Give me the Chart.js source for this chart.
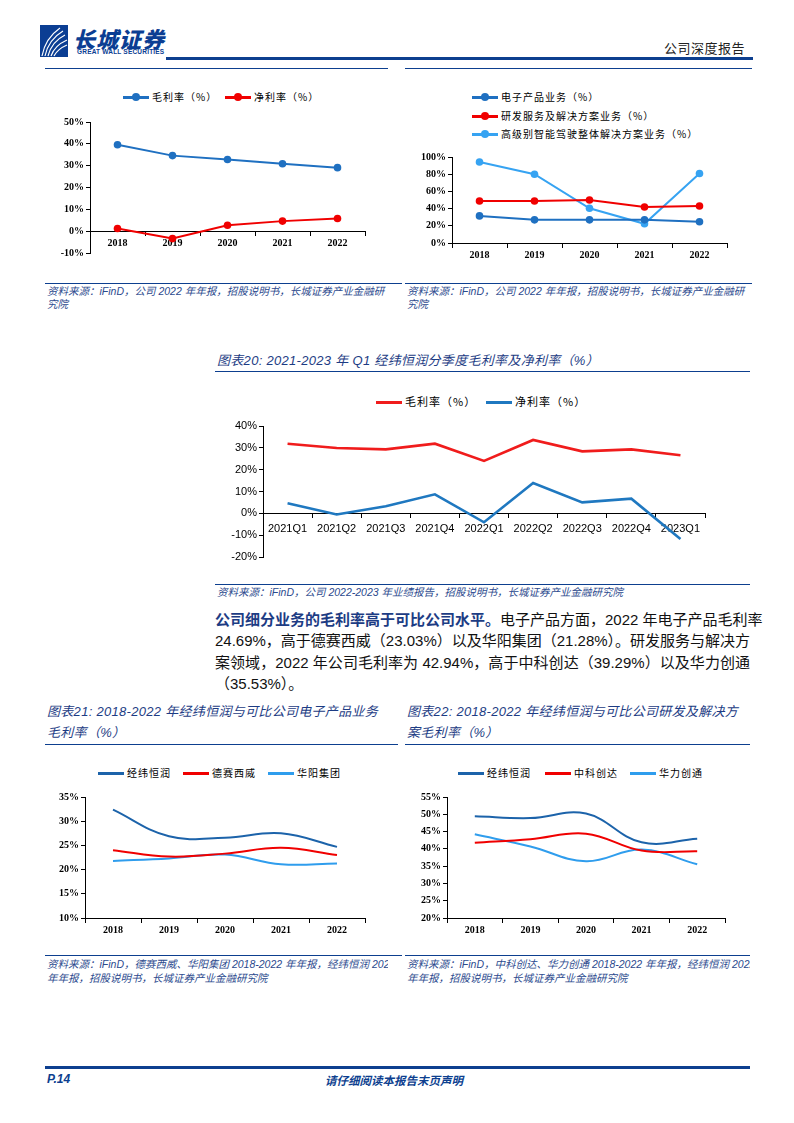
<!DOCTYPE html>
<html>
<head>
<meta charset="utf-8">
<script src="https://cdn.jsdelivr.net/npm/chart.js@4.4.0/dist/chart.umd.min.js"></script>
<style>
  body { margin: 0; background: #fff; }
  #page { position: relative; width: 794px; height: 1123px; overflow: hidden; font-family: "Liberation Sans", "Noto Sans CJK SC", sans-serif; }
  .abs { position: absolute; }
  .hr { position: absolute; background: #0d3f8f; }
  .title { position: absolute; font-size: 13px; font-style: italic; color: #1d3c84; line-height: 21px; white-space: nowrap; letter-spacing: 0.3px; }
  .src { position: absolute; font-size: 10.5px; font-style: italic; color: #2c4a8e; line-height: 13px; white-space: nowrap; }
  .lg { position: absolute; height: 14px; line-height: 14px; font-family: "Noto Sans CJK SC", sans-serif; font-size: 10px; letter-spacing: 1px; color: #000; white-space: nowrap; }
  .sw { position: relative; display: inline-block; width: 26px; height: 3px; margin-right: 3px; vertical-align: middle; top: -1px; }
  .sw.dot::after { content: ''; position: absolute; left: 9px; top: -2.5px; width: 8px; height: 8px; border-radius: 50%; background: inherit; }
  canvas { position: absolute; }
  #para { position: absolute; left: 215px; top: 609px; width: 535px; font-size: 15px; line-height: 21.3px; color: #111; font-family: "Liberation Sans", "Noto Sans CJK SC", sans-serif; }
  #para div { text-align: justify; text-align-last: justify; white-space: nowrap; }
  #para div.last { text-align-last: left; }
</style>
</head>
<body>
<div id="page">
  <!-- header -->
  <svg class="abs" style="left:40px;top:25px" width="28" height="32" viewBox="0 0 28 32">
    <rect width="28" height="32" fill="#0b3e93"/>
    <path d="M2 31 C4 20 10 10 20 3" stroke="#fff" stroke-width="1.2" fill="none"/>
    <path d="M5 31 C7 21 13 12 23 6" stroke="#fff" stroke-width="1.2" fill="none"/>
    <path d="M8 31 C10 23 15 15 25 10" stroke="#fff" stroke-width="1.2" fill="none"/>
    <path d="M11 31 C13 25 18 19 27 15" stroke="#fff" stroke-width="1.2" fill="none"/>
    <path d="M14 31 C16 27 20 23 27 20" stroke="#fff" stroke-width="1.2" fill="none"/>
  </svg>
  <div class="abs" style="left:73px;top:22px;font-family:'Noto Sans CJK SC';font-weight:900;font-size:22px;color:#0b3e93;letter-spacing:1px;font-style:italic">长城证券</div>
  <div class="abs" style="left:77px;top:48px;font-family:'Liberation Sans';font-weight:bold;font-size:6.5px;color:#0b3e93;letter-spacing:0.2px">GREAT WALL SECURITIES</div>
  <div class="abs" style="left:664px;top:38px;font-family:'Noto Sans CJK SC';font-size:13px;color:#222;letter-spacing:0.5px">公司深度报告</div>
  <div class="hr" style="left:166px;top:57px;width:587px;height:2.5px"></div>
  <div class="hr" style="left:45px;top:68px;width:343px;height:1.2px"></div>
  <div class="hr" style="left:405px;top:68px;width:347px;height:1.2px"></div>

  <!-- chart 1 legend -->
  <div class="lg" style="left:123px;top:90px"><span class="sw dot" style="background:#1f70c1"></span>毛利率（%）</div>
  <div class="lg" style="left:225px;top:90px"><span class="sw dot" style="background:#f00000"></span>净利率（%）</div>
  <canvas id="c1" width="335" height="160" style="left:40px;top:112px"></canvas>
  <div class="hr" style="left:45px;top:283px;width:357px;height:1.2px"></div>
  <div class="src" style="left:47px;top:285px">资料来源：iFinD，公司 2022 年年报，招股说明书，长城证券产业金融研<br>究院</div>

  <!-- chart 2 legend -->
  <div class="lg" style="left:472px;top:90px"><span class="sw dot" style="background:#1f70c1"></span>电子产品业务（%）</div>
  <div class="lg" style="left:472px;top:109px"><span class="sw dot" style="background:#f00000"></span>研发服务及解决方案业务（%）</div>
  <div class="lg" style="left:472px;top:127px"><span class="sw dot" style="background:#36a3f2"></span>高级别智能驾驶整体解决方案业务（%）</div>
  <canvas id="c2" width="335" height="120" style="left:402px;top:147px"></canvas>
  <div class="hr" style="left:405px;top:283px;width:347px;height:1.2px"></div>
  <div class="src" style="left:407px;top:285px">资料来源：iFinD，公司 2022 年年报，招股说明书，长城证券产业金融研<br>究院</div>

  <!-- chart 3 -->
  <div class="title" style="left:217px;top:350px">图表20: 2021-2023 年 Q1 经纬恒润分季度毛利率及净利率（%）</div>
  <div class="hr" style="left:215px;top:371px;width:535px;height:1.2px"></div>
  <div class="lg" style="left:376px;top:394px;font-size:11px"><span class="sw" style="background:#f01c1c"></span>毛利率（%）</div>
  <div class="lg" style="left:486px;top:394px;font-size:11px"><span class="sw" style="background:#1f78c0"></span>净利率（%）</div>
  <canvas id="c3" width="510" height="151" style="left:205px;top:416px"></canvas>
  <div class="hr" style="left:215px;top:584px;width:535px;height:1.2px"></div>
  <div class="src" style="left:217px;top:586px">资料来源：iFinD，公司 2022-2023 年业绩报告，招股说明书，长城证券产业金融研究院</div>

  <!-- paragraph -->
  <div id="para">
    <div><b style="color:#1d3c84">公司细分业务的毛利率高于可比公司水平。</b>电子产品方面，2022 年电子产品毛利率</div>
    <div>24.69%，高于德赛西威（23.03%）以及华阳集团（21.28%）。研发服务与解决方</div>
    <div>案领域，2022 年公司毛利率为 42.94%，高于中科创达（39.29%）以及华力创通</div>
    <div class="last">（35.53%）。</div>
  </div>

  <!-- chart 4 -->
  <div class="title" style="left:47px;top:701px">图表21: 2018-2022 年经纬恒润与可比公司电子产品业务<br>毛利率（%）</div>
  <div class="hr" style="left:45px;top:744px;width:353px;height:1.2px"></div>
  <div class="lg" style="left:98px;top:766px"><span class="sw" style="background:#1c63aa"></span>经纬恒润</div>
  <div class="lg" style="left:183px;top:766px"><span class="sw" style="background:#f00000"></span>德赛西威</div>
  <div class="lg" style="left:268px;top:766px"><span class="sw" style="background:#2f9ded"></span>华阳集团</div>
  <canvas id="c4" width="340" height="150" style="left:35px;top:787px"></canvas>
  <div class="hr" style="left:45px;top:955px;width:357px;height:1.2px"></div>
  <div class="src" style="left:47px;top:957px;width:341px;overflow:hidden;line-height:14px">资料来源：iFinD，德赛西威、华阳集团 2018-2022 年年报，经纬恒润 2022<br>年年报，招股说明书，长城证券产业金融研究院</div>

  <!-- chart 5 -->
  <div class="title" style="left:407px;top:701px">图表22: 2018-2022 年经纬恒润与可比公司研发及解决方<br>案毛利率（%）</div>
  <div class="hr" style="left:405px;top:744px;width:345px;height:1.2px"></div>
  <div class="lg" style="left:458px;top:766px"><span class="sw" style="background:#1c63aa"></span>经纬恒润</div>
  <div class="lg" style="left:545px;top:766px"><span class="sw" style="background:#f00000"></span>中科创达</div>
  <div class="lg" style="left:630px;top:766px"><span class="sw" style="background:#2f9ded"></span>华力创通</div>
  <canvas id="c5" width="340" height="150" style="left:397px;top:787px"></canvas>
  <div class="hr" style="left:405px;top:955px;width:345px;height:1.2px"></div>
  <div class="src" style="left:407px;top:957px;width:343px;overflow:hidden;line-height:14px">资料来源：iFinD，中科创达、华力创通 2018-2022 年年报，经纬恒润 2022<br>年年报，招股说明书，长城证券产业金融研究院</div>

  <!-- footer -->
  <div class="hr" style="left:45px;top:1066px;width:705px;height:2.5px"></div>
  <div class="abs" style="left:47px;top:1072px;font-size:12px;font-weight:bold;font-style:italic;color:#0d3f8f">P.14</div>
  <div class="abs" style="left:325px;top:1072px;font-family:'Noto Sans CJK SC';font-size:11.5px;font-weight:bold;font-style:italic;color:#0d3f8f">请仔细阅读本报告末页声明</div>
</div>

<script>
  // chart data
  const years = ['2018', '2019', '2020', '2021', '2022'];
  const grossMargin = [39.6, 34.6, 32.8, 30.9, 29.1];
  const netMargin = [1.2, -3.4, 2.7, 4.6, 5.8];

  const electronics = [31.5, 26.9, 26.9, 26.9, 24.69];
  const rdService = [48.8, 48.8, 50.0, 41.9, 42.94];
  const adasSolution = [94.2, 80.0, 40.4, 22.3, 80.8];

  const quarters = ['2021Q1', '2021Q2', '2021Q3', '2021Q4', '2022Q1', '2022Q2', '2022Q3', '2022Q4', '2023Q1'];
  const qGross = [31.9, 29.9, 29.3, 31.9, 24.0, 33.6, 28.4, 29.3, 26.6];
  const qNet = [4.6, -0.5, 3.2, 8.7, -4.1, 13.9, 5.0, 6.7, -11.8];

  const jwhrElec = [32.4, 26.9, 26.6, 27.5, 24.69];
  const desay = [24.0, 22.7, 23.3, 24.5, 23.03];
  const huayang = [21.8, 22.3, 23.1, 21.1, 21.28];

  const jwhrRd = [49.4, 48.9, 50.2, 41.9, 42.94];
  const thundersoft = [41.8, 42.8, 44.4, 39.5, 39.29];
  const hwaTech = [44.2, 40.7, 36.4, 39.8, 35.53];

  Chart.defaults.animation = false;
  Chart.defaults.responsive = false;
  Chart.defaults.devicePixelRatio = 1;
  Chart.defaults.plugins.legend.display = false;
  Chart.defaults.plugins.tooltip.enabled = false;
  Chart.defaults.color = '#000';

  const serifFont = { family: 'Liberation Serif', size: 10, weight: 'bold' };
  const sansFont = { family: 'Liberation Sans', size: 11 };

  function yAxis(min, max, step, width, font) {
    return {
      min, max,
      border: { color: '#000', width: 1 },
      grid: { drawOnChartArea: false, tickLength: 4, color: '#000' },
      ticks: { stepSize: step, padding: 2, font, callback: v => v + '%' },
      afterFit: s => { s.width = width; }
    };
  }

  function xAxis(at, font, pad) {
    return {
      position: { y: at },
      offset: true,
      border: { color: '#000', width: 1 },
      grid: { drawOnChartArea: false, offset: true, tickLength: 4, color: '#000' },
      ticks: { font, padding: pad, maxRotation: 0, autoSkip: false },
      afterFit: s => { s.height = 0; }
    };
  }

  function series(label, data, color, extra) {
    return Object.assign({
      label, data,
      borderColor: color, backgroundColor: color,
      borderWidth: 2, pointRadius: 0, tension: 0, clip: false
    }, extra);
  }

  function lineChart(id, labels, datasets, x, y, padding) {
    return new Chart(document.getElementById(id), {
      type: 'line',
      data: { labels, datasets },
      options: { layout: { padding }, scales: { x, y } }
    });
  }

  const dots = { pointRadius: 3.8, pointBorderWidth: 0 };

  lineChart('c1', years, [
    series('毛利率（%）', grossMargin, '#1f70c1', dots),
    series('净利率（%）', netMargin, '#f00000', dots)
  ], xAxis(0, serifFont, 2), yAxis(-10, 50, 10, 50, serifFont),
  { top: 10, right: 10, bottom: 19, left: 0 });

  lineChart('c2', years, [
    series('电子产品业务（%）', electronics, '#1f70c1', dots),
    series('研发服务及解决方案业务（%）', rdService, '#f00000', dots),
    series('高级别智能驾驶整体解决方案业务（%）', adasSolution, '#36a3f2', dots)
  ], xAxis(0, serifFont, 2), yAxis(0, 100, 20, 50, serifFont),
  { top: 10, right: 10, bottom: 24, left: 0 });

  lineChart('c3', quarters, [
    series('毛利率（%）', qGross, '#f01c1c', { borderWidth: 2.6 }),
    series('净利率（%）', qNet, '#1f78c0', { borderWidth: 2.6 })
  ], xAxis(0, sansFont, 5), yAxis(-20, 40, 10, 58, sansFont),
  { top: 10, right: 10, bottom: 10, left: 0 });

  lineChart('c4', years, [
    series('经纬恒润', jwhrElec, '#1c63aa', { tension: 0.4 }),
    series('德赛西威', desay, '#f00000', { tension: 0.4 }),
    series('华阳集团', huayang, '#2f9ded', { tension: 0.4 })
  ], xAxis(10, serifFont, 2), yAxis(10, 35, 5, 50, serifFont),
  { top: 10, right: 10, bottom: 19, left: 0 });

  lineChart('c5', years, [
    series('经纬恒润', jwhrRd, '#1c63aa', { tension: 0.4 }),
    series('中科创达', thundersoft, '#f00000', { tension: 0.4 }),
    series('华力创通', hwaTech, '#2f9ded', { tension: 0.4 })
  ], xAxis(20, serifFont, 2), yAxis(20, 55, 5, 50, serifFont),
  { top: 10, right: 12, bottom: 19, left: 0 });
</script>
</body>
</html>
